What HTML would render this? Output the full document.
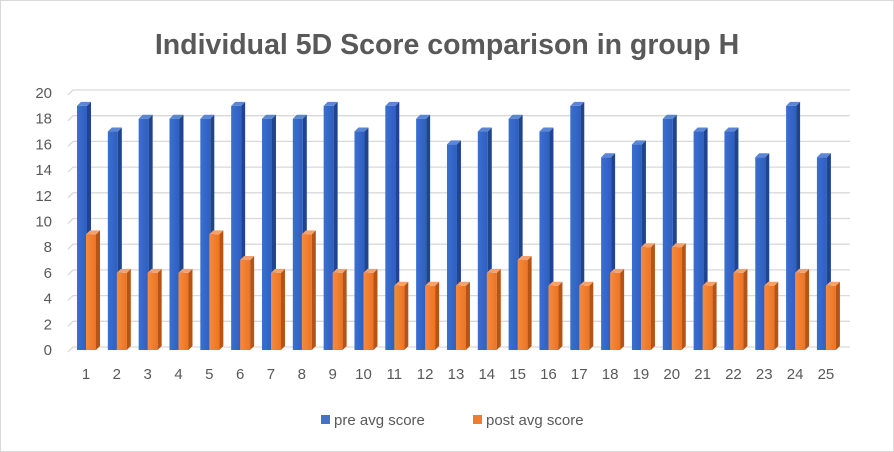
<!DOCTYPE html>
<html><head><meta charset="utf-8"><style>
body{margin:0;background:#fff;}
svg{display:block;font-family:"Liberation Sans",sans-serif;}
</style></head><body>
<svg id="c" width="894" height="452" viewBox="0 0 894 452">
<defs>
<linearGradient id="gb" x1="0" x2="1"><stop offset="0" stop-color="#3a6fd0"/><stop offset="1" stop-color="#2f5fbf"/></linearGradient>
<linearGradient id="go" x1="0" x2="1"><stop offset="0" stop-color="#f58a3e"/><stop offset="1" stop-color="#ec7424"/></linearGradient>
</defs>
<rect x="0.5" y="0.5" width="893" height="451" fill="#fff" stroke="#d9d9d9"/>
<text x="447" y="54" text-anchor="middle" font-size="28.5" font-weight="bold" fill="#595959">Individual 5D Score comparison in group H</text>
<g id="grid"></g><g id="bars"></g><g id="labels"></g>
<g>
<rect x="321" y="415" width="9" height="9" fill="#4472c4"/>
<text x="334" y="425" font-size="15" fill="#595959">pre avg score</text>
<rect x="473" y="415" width="9" height="9" fill="#ed7d31"/>
<text x="486" y="425" font-size="15" fill="#595959">post avg score</text>
</g>
</svg>
<script>
const categories=["1","2","3","4","5","6","7","8","9","10","11","12","13","14","15","16","17","18","19","20","21","22","23","24","25"];
const preScores=[19,17,18,18,18,19,18,18,19,17,19,18,16,17,18,17,19,15,16,18,17,17,15,19,15];
const postScores=[9,6,6,6,9,7,6,9,6,6,5,5,5,6,7,5,5,6,8,8,5,6,5,6,5];
const yTicks=[0,2,4,6,8,10,12,14,16,18,20];
const NS="http://www.w3.org/2000/svg";
function y(v){return 350-v*12.85;}
function x(i){return 86+i*30.83;}
function mk(t,a,p){const e=document.createElementNS(NS,t);for(const k in a)e.setAttribute(k,a[k]);p.appendChild(e);return e;}
const grid=document.getElementById('grid'),bars=document.getElementById('bars'),labels=document.getElementById('labels');
yTicks.forEach(v=>{
 const l=mk('polyline',{points:`68,${y(v)+2} 73,${y(v)-3} 850,${y(v)-3}`,fill:'none',stroke:'#d9d9d9','stroke-width':1.3},grid);
 
 
 const t=mk('text',{x:52,y:y(v)+5,'text-anchor':'end','font-size':15,fill:'#595959'},labels);
 t.textContent=v;
 
 
});
function bar(x0,v,front,side,top,name){
 const g=mk('g',{},bars);
 
 
 const w=10,d=4,yt=y(v),yb=y(0);
 mk('rect',{x:x0,y:yt,width:w,height:yb-yt,fill:front},g);
 mk('polygon',{points:`${x0+w},${yt} ${x0+w+d},${yt-4} ${x0+w+d},${yb-4} ${x0+w},${yb}`,fill:side},g);
 mk('polygon',{points:`${x0},${yt} ${x0+d},${yt-4} ${x0+w+d},${yt-4} ${x0+w},${yt}`,fill:top},g);
}
categories.forEach((c,i)=>{
 bar(x(i)-9,preScores[i],'url(#gb)','#1f4591','#5b86d6','bar-pre-'+c);
 bar(x(i),postScores[i],'url(#go)','#b55414','#f6a06a','bar-post-'+c);
 const t=mk('text',{x:x(i),y:379,'text-anchor':'middle','font-size':15,fill:'#595959'},labels);
 t.textContent=c;
 
 
});
</script>
</body></html>
